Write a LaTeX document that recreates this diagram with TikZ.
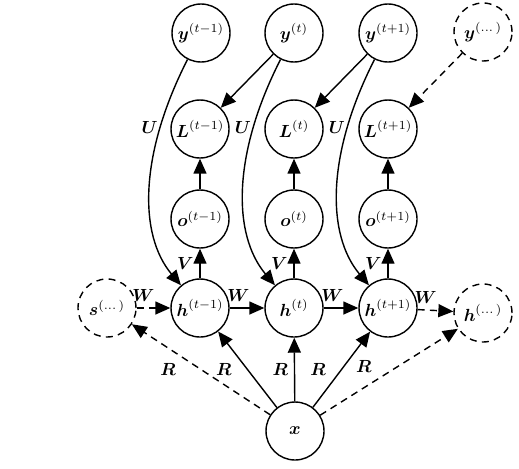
\documentclass[tikz,border=0pt]{standalone}
\usepackage{amsmath}
\usepackage{amssymb}
\usetikzlibrary{arrows.meta}

\begin{document}
\begin{tikzpicture}[x=0.02cm,y=0.02cm]

\tikzset{unit/.style={draw,circle,minimum size=1.16cm,inner sep=0pt,line width=0.8pt},
  ghost/.style={unit,dash pattern=on 4pt off 3pt},
  EdgeStyle/.style={-{Triangle[length=3mm,width=2.6mm]},line width=0.8pt},
  GhostEdge/.style={EdgeStyle,dash pattern=on 4pt off 3pt},
  BendEdge/.style={EdgeStyle,out=-117,in=130,out looseness=1.2,in looseness=0.75}}
  \useasboundingbox (0,0) rectangle (519,468);

  \node[unit] (y1) at (201, 435) {$\boldsymbol{y}^{(t-1)}$};
  \node[unit] (y2) at (294, 435) {$\boldsymbol{y}^{(t)}$};
  \node[unit] (y3) at (388, 435) {$\boldsymbol{y}^{(t+1)}$};
  \node[ghost] (y4) at (483, 436) {$\boldsymbol{y}^{(\dots)}$};

  \node[unit] (L1) at (200, 339) {$\boldsymbol{L}^{(t-1)}$};
  \node[unit] (L2) at (294, 339) {$\boldsymbol{L}^{(t)}$};
  \node[unit] (L3) at (388, 339) {$\boldsymbol{L}^{(t+1)}$};

  \node[unit] (o1) at (200, 249) {$\boldsymbol{o}^{(t-1)}$};
  \node[unit] (o2) at (294, 249) {$\boldsymbol{o}^{(t)}$};
  \node[unit] (o3) at (388, 249) {$\boldsymbol{o}^{(t+1)}$};

  \node[ghost] (s) at (107, 160) {$\boldsymbol{s}^{(\dots)}$};
  \node[unit] (h1) at (200, 160) {$\boldsymbol{h}^{(t-1)}$};
  \node[unit] (h2) at (294, 160) {$\boldsymbol{h}^{(t)}$};
  \node[unit] (h3) at (388, 160) {$\boldsymbol{h}^{(t+1)}$};
  \node[ghost] (hd) at (483, 155) {$\boldsymbol{h}^{(\dots)}$};

  \node[unit] (x) at (295, 37) {$\boldsymbol{x}$};

  % targets
  \draw[EdgeStyle] (y2) -- (L1);
  \draw[EdgeStyle] (y3) -- (L2);
  \draw[GhostEdge] (y4) -- (L3);

  % U
  \draw[BendEdge] (y1) to node[left,inner sep=1pt,pos=0.25] {$\boldsymbol{U}$} (h1);
  \draw[BendEdge] (y2) to node[left,inner sep=1pt,pos=0.25] {$\boldsymbol{U}$} (h2);
  \draw[BendEdge] (y3) to node[left,inner sep=1pt,pos=0.25] {$\boldsymbol{U}$} (h3);

  % V
  \draw[EdgeStyle] (o1) -- (L1);
  \draw[EdgeStyle] (o2) -- (L2);
  \draw[EdgeStyle] (o3) -- (L3);
  \draw[EdgeStyle] (h1) -- node[left] {$\boldsymbol{V}$} (o1);
  \draw[EdgeStyle] (h2) -- node[left] {$\boldsymbol{V}$} (o2);
  \draw[EdgeStyle] (h3) -- node[left] {$\boldsymbol{V}$} (o3);

  % W
  \draw[GhostEdge] (s) -- node[above,pos=0.2] {$\boldsymbol{W}$} (h1);
  \draw[EdgeStyle] (h1) -- node[above,pos=0.25] {$\boldsymbol{W}$} (h2);
  \draw[EdgeStyle] (h2) -- node[above,pos=0.25] {$\boldsymbol{W}$} (h3);
  \draw[GhostEdge] (h3) -- node[above,pos=0.22] {$\boldsymbol{W}$} (hd);

  % R
  \draw[GhostEdge] (x) -- node[below left,pos=0.635] {$\boldsymbol{R}$} (s);
  \draw[EdgeStyle] (x) -- node[below left,pos=0.66] {$\boldsymbol{R}$} (h1);
  \draw[EdgeStyle] (x) -- node[left,pos=0.5] {$\boldsymbol{R}$} (h2);
  \draw[EdgeStyle] (x) -- node[above left,pos=0.34] {$\boldsymbol{R}$} (h3);
  \draw[GhostEdge] (x) -- node[above left,pos=0.42] {$\boldsymbol{R}$} (hd);

\end{tikzpicture}
\end{document}
